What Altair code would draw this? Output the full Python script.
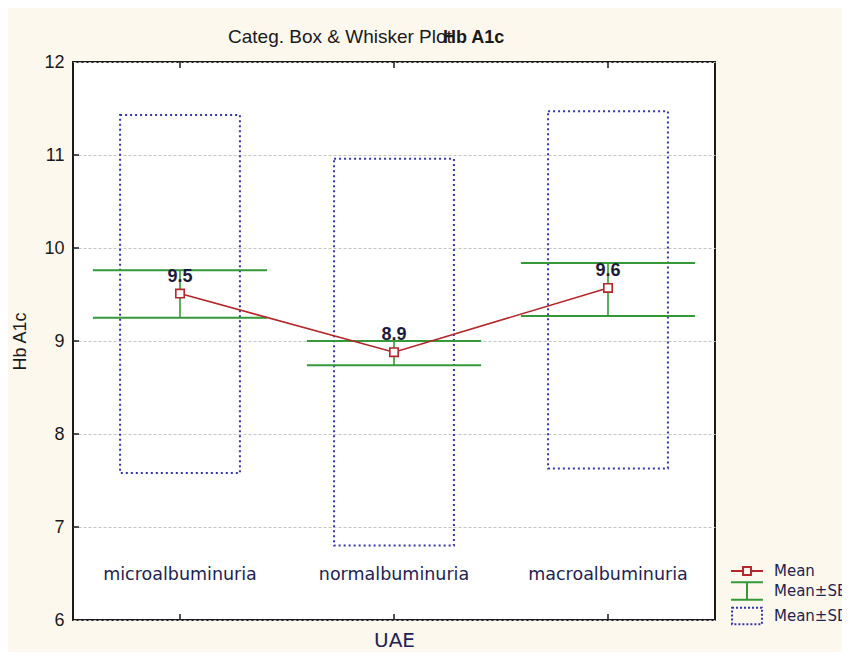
import altair as alt
import pandas as pd

# ---- data ----
categories = ["microalbuminuria", "normalbuminuria", "macroalbuminuria"]
means = [9.51, 8.88, 9.57]
se_low = [9.25, 8.74, 9.27]
se_high = [9.76, 9.00, 9.84]
sd_low = [7.58, 6.80, 7.63]
sd_high = [11.43, 10.96, 11.47]
mean_labels = ["9.5", "8.9", "9.6"]
legend_items = ["Mean", "Mean±SE", "Mean±SD"]
y_ticks = [6, 7, 8, 9, 10, 11, 12]
inner_ticks = [7, 8, 9, 10, 11]
title_text = "Categ. Box & Whisker Plot"
title_var = "Hb A1c"

# ---- styles ----
RED = "#b3262b"
GREEN = "#35993a"
NAVY = "#3636a8"
TXT = "#1e2350"
DARK = "#1a1a1a"
BOX_HALF = 0.28
SE_HALF = 0.407

pos = list(range(len(categories)))
df = pd.DataFrame({
    "cat": categories, "pos": pos, "mean": means,
    "se_lo": se_low, "se_hi": se_high, "sd_lo": sd_low, "sd_hi": sd_high,
    "label": mean_labels,
})
df["box_l"] = df["pos"] - BOX_HALF
df["box_r"] = df["pos"] + BOX_HALF
df["se_l"] = df["pos"] - SE_HALF
df["se_r"] = df["pos"] + SE_HALF

xscale = alt.Scale(domain=[-0.5, len(categories) - 0.5], nice=False, zero=False)
yscale = alt.Scale(domain=[6, 12], nice=False, zero=False)

xaxis = alt.Axis(title="UAE", labels=False, ticks=False, domain=False, grid=False,
                 titleFont="DejaVu Sans", titleFontSize=20, titleFontWeight="normal",
                 titleColor=TXT, titlePadding=10)
yaxis = alt.Axis(title="Hb A1c", values=y_ticks, format="d", grid=True, gridDash=[3, 2],
                 gridColor="#c4c4c4", gridWidth=1, domain=False, ticks=False,
                 labelFont="Liberation Sans", labelFontSize=18, labelColor=DARK,
                 labelPadding=9, titleFont="Liberation Sans", titleFontSize=18,
                 titleFontWeight="normal", titleColor=DARK, titlePadding=14)

base = alt.Chart(df)

sd_box = base.mark_rect(fillOpacity=0, stroke=NAVY, strokeDash=[2, 3], strokeWidth=2).encode(
    x=alt.X("box_l:Q", scale=xscale, axis=xaxis),
    x2="box_r:Q",
    y=alt.Y("sd_lo:Q", scale=yscale, axis=yaxis),
    y2="sd_hi:Q",
)

se_top = base.mark_rule(color=GREEN, strokeWidth=2).encode(
    x=alt.X("se_l:Q", scale=xscale), x2="se_r:Q", y=alt.Y("se_hi:Q", scale=yscale))
se_bot = base.mark_rule(color=GREEN, strokeWidth=2).encode(
    x=alt.X("se_l:Q", scale=xscale), x2="se_r:Q", y=alt.Y("se_lo:Q", scale=yscale))
se_v = base.mark_rule(color=GREEN, strokeWidth=1.6).encode(
    x=alt.X("pos:Q", scale=xscale), y=alt.Y("se_lo:Q", scale=yscale), y2="se_hi:Q")

mean_line = base.mark_line(color=RED, strokeWidth=1.6).encode(
    x=alt.X("pos:Q", scale=xscale), y=alt.Y("mean:Q", scale=yscale))
mean_pts = base.mark_point(shape="square", size=70, filled=True, fill="white",
                           stroke=RED, strokeWidth=1.6, opacity=1).encode(
    x=alt.X("pos:Q", scale=xscale), y=alt.Y("mean:Q", scale=yscale))

val_labels = base.mark_text(font="Liberation Sans", fontSize=18, fontWeight="bold",
                            color="#1c1c3a", dy=-12, baseline="alphabetic").encode(
    x=alt.X("pos:Q", scale=xscale), y=alt.Y("mean:Q", scale=yscale), text="label:N")

cat_text = base.mark_text(font="DejaVu Sans", fontSize=17.5, color=TXT, baseline="middle").encode(
    x=alt.X("pos:Q", scale=xscale), y=alt.value(513), text="cat:N")

ytick_marks = alt.Chart(pd.DataFrame({"v": inner_ticks})).mark_rule(color=DARK, strokeWidth=1.5).encode(
    y=alt.Y("v:Q", scale=yscale), x=alt.value(0), x2=alt.value(6))
xtick_bot = base.mark_rule(color=DARK, strokeWidth=1.5).encode(
    x=alt.X("pos:Q", scale=xscale), y=alt.value(558), y2=alt.value(552))
xtick_top = base.mark_rule(color=DARK, strokeWidth=1.5).encode(
    x=alt.X("pos:Q", scale=xscale), y=alt.value(0), y2=alt.value(6))

title_a = alt.Chart(pd.DataFrame({"t": [title_text]})).mark_text(
    font="Liberation Sans", fontSize=19, color=DARK, align="left", baseline="alphabetic").encode(
    x=alt.value(155), y=alt.value(-19), text="t:N")
title_b = alt.Chart(pd.DataFrame({"t": [title_var]})).mark_text(
    font="Liberation Sans", fontSize=18, fontWeight="bold", color=DARK, align="left",
    baseline="alphabetic").encode(
    x=alt.value(370), y=alt.value(-19), text="t:N")

# legend symbols (unit paths scaled by sqrt(symbolSize)/2 = 11px)
path_mean = "M-1.45,0H-0.36M0.36,0H1.45M-0.36,-0.36H0.36V0.36H-0.36Z"
path_se = "M-1.45,-0.8H1.45M0,-0.8V0.8M-1.45,0.8H1.45"
path_sd = "M-1.36,-0.75H1.36V0.75H-1.36Z"

legend_layer = alt.Chart(pd.DataFrame({"series": legend_items})).mark_point(
    filled=False, clip=True, strokeWidth=2).encode(
    x=alt.value(-200), y=alt.value(-200),
    color=alt.Color("series:N", scale=alt.Scale(domain=legend_items, range=[RED, GREEN, NAVY]),
                    title=None, legend=alt.Legend(title=None)),
    shape=alt.Shape("series:N", scale=alt.Scale(domain=legend_items, range=[path_mean, path_se, path_sd]),
                    title=None, legend=alt.Legend(title=None)),
    strokeDash=alt.StrokeDash("series:N", scale=alt.Scale(domain=legend_items, range=[[1, 0], [1, 0], [2, 2]]),
                              title=None, legend=alt.Legend(title=None)),
)

chart = alt.layer(
    sd_box, se_top, se_bot, se_v, mean_line, mean_pts, val_labels, cat_text,
    ytick_marks, xtick_bot, xtick_top, title_a, title_b, legend_layer,
).properties(
    width=642, height=558,
    padding={"left": 65, "top": 54, "right": 127, "bottom": 32},
    autosize=alt.AutoSizeParams(type="none"),
    background="#fdf8ee",
).configure_view(
    stroke=DARK, strokeWidth=2, fill="white"
).configure_legend(
    orient="none", legendX=662, legendY=497, padding=0, rowPadding=-1,
    symbolSize=484, symbolStrokeWidth=2, symbolOpacity=1,
    labelFont="DejaVu Sans", labelFontSize=15, labelColor=TXT, labelOffset=15, labelLimit=300,
)

chart.save("out.html", embed_options={"renderer": "svg", "actions": False})
